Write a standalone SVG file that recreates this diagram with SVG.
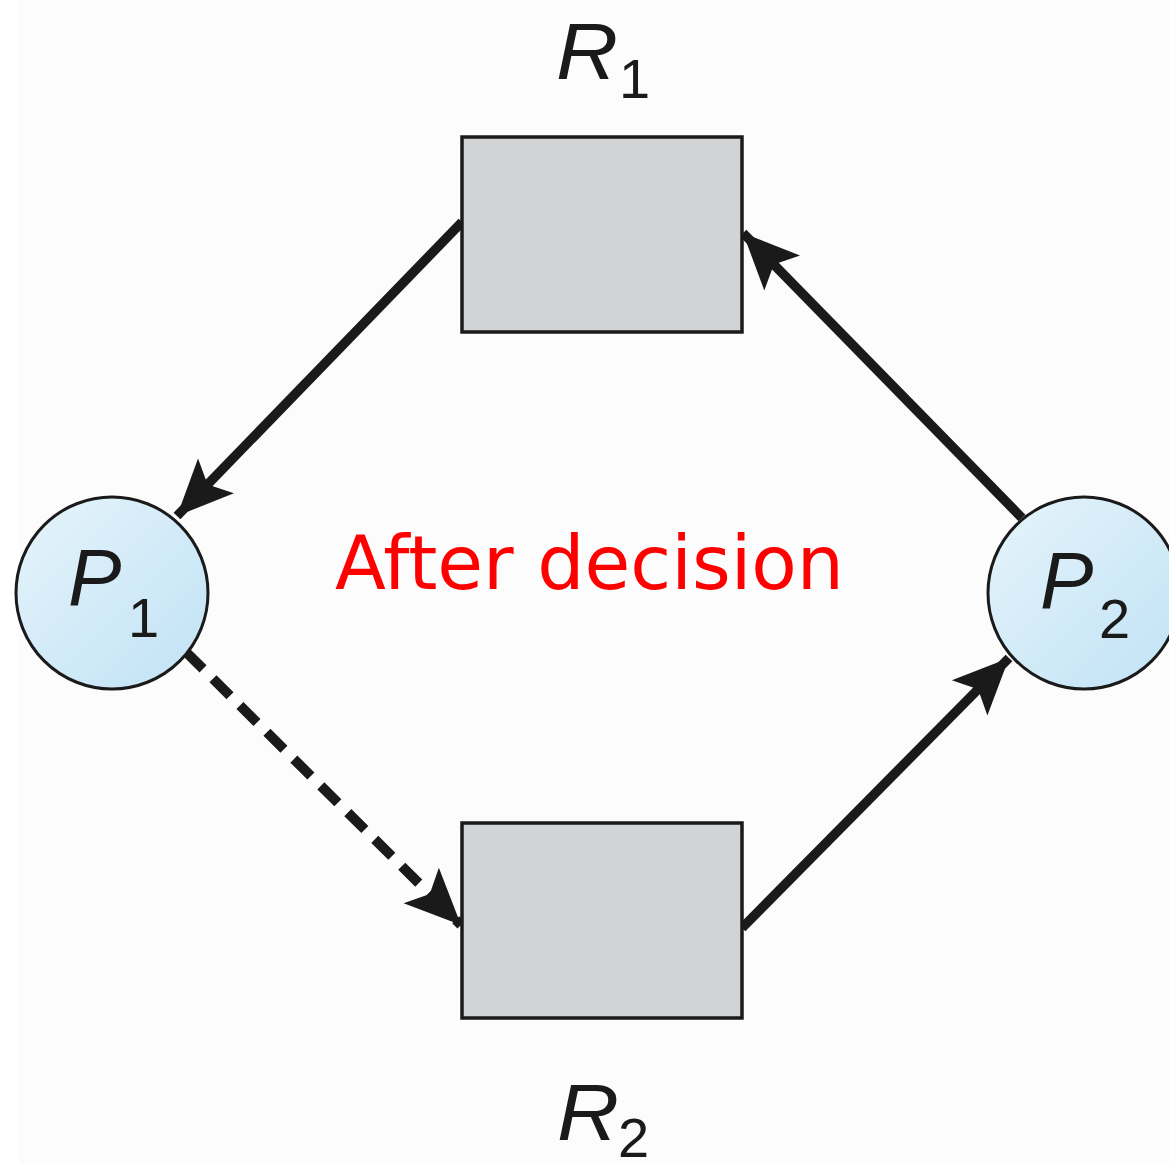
<svg xmlns="http://www.w3.org/2000/svg" width="1169" height="1169" viewBox="0 0 1169 1169">
  <style>
    .res { fill: #d1d3d4; stroke: #1a1a1a; stroke-width: 3.5; }
    .proc { fill: url(#procFill); stroke: #1a1a1a; stroke-width: 3; }
    .lbl { font-family: "Liberation Sans", Arial, sans-serif; fill: #1a1a1a; }
    .main { font-style: italic; font-size: 80px; }
    .sub { font-size: 56px; }
    .edge { fill: none; stroke: #1a1a1a; stroke-width: 9.5; }
    .dashed { stroke-width: 10; stroke-dasharray: 24 14; }
    .note { font-family: "DejaVu Sans", Verdana, sans-serif; font-size: 74px; fill: #ff0000; }
  </style>
  <defs>
    <linearGradient id="procFill" x1="0" y1="0" x2="1" y2="1">
      <stop offset="0" stop-color="#e6f4fb"/>
      <stop offset="1" stop-color="#c0e2f5"/>
    </linearGradient>
    <marker id="head" markerUnits="userSpaceOnUse" markerWidth="62" markerHeight="56"
            viewBox="-58 -28 62 56" refX="0" refY="0" orient="auto">
      <path d="M0,0 L-56,-25 L-44,0 L-56,25 Z" fill="#1a1a1a"/>
    </marker>
  </defs>

  <rect x="0" y="0" width="1169" height="1169" fill="#ffffff"/>
  <rect x="19" y="0" width="1150" height="1164" fill="#fcfcfc"/>

  <!-- request / assignment edges -->
  <g id="connectors">
    <!-- R1 held by P1 -->
    <line class="edge" x1="462" y1="222" x2="177" y2="516" marker-end="url(#head)"/>
    <!-- P2 requests R1 -->
    <line class="edge" x1="1022" y1="518" x2="743" y2="233" marker-end="url(#head)"/>
    <!-- R2 held by P2 -->
    <line class="edge" x1="742" y1="928" x2="1009" y2="658" marker-end="url(#head)"/>
    <!-- P1 claim on R2 -->
    <line class="edge dashed" x1="186" y1="652" x2="461" y2="925" marker-end="url(#head)"/>
  </g>

  <g id="R1">
    <rect class="res" x="462" y="137" width="280" height="195"/>
    <text class="lbl main" x="556" y="79" font-size="84" textLength="62" lengthAdjust="spacingAndGlyphs">R</text>
    <text class="lbl sub" x="619" y="98">1</text>
  </g>

  <g id="R2">
    <rect class="res" x="462" y="823" width="280" height="195"/>
    <text class="lbl main" x="557" y="1140" font-size="84" textLength="62" lengthAdjust="spacingAndGlyphs">R</text>
    <text class="lbl sub" x="618" y="1157">2</text>
  </g>

  <g id="P1">
    <circle class="proc" cx="112" cy="593" r="96"/>
    <text class="lbl main" x="68" y="605">P</text>
    <text class="lbl sub" x="128" y="637">1</text>
  </g>

  <g id="P2">
    <circle class="proc" cx="1084" cy="593" r="96"/>
    <text class="lbl main" x="1040" y="608">P</text>
    <text class="lbl sub" x="1099" y="638">2</text>
  </g>

  <text class="note" x="335" y="589" textLength="509" lengthAdjust="spacingAndGlyphs">After decision</text>
</svg>
